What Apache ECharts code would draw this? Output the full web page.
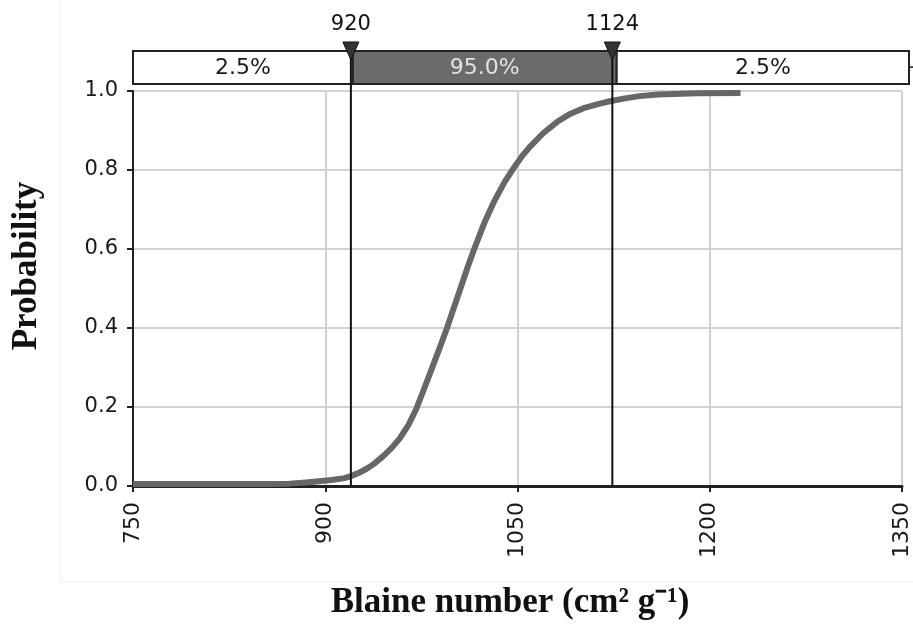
<!DOCTYPE html>
<html>
<head>
<meta charset="utf-8">
<script src="https://cdn.jsdelivr.net/npm/echarts@6/dist/echarts.min.js"></script>
<style>
  html, body { margin: 0; padding: 0; background: #fff; }
  #chart { width: 913px; height: 637px; }
</style>
</head>
<body>
<div id="chart"></div>
<script>
// Blaine number CDF
var blaine = [750, 800, 850, 872, 885, 895, 905, 915, 920, 926, 932, 938, 945, 952, 958, 965, 971, 977, 983, 989, 995, 1000, 1006, 1011, 1016, 1024, 1032, 1040, 1047, 1054, 1060, 1070, 1081, 1091, 1101, 1112, 1122, 1135, 1145, 1160, 1190, 1224];
var prob = [0.005, 0.005, 0.005, 0.006, 0.009, 0.012, 0.015, 0.02, 0.025, 0.033, 0.043, 0.056, 0.075, 0.097, 0.12, 0.155, 0.195, 0.245, 0.296, 0.347, 0.4, 0.448, 0.505, 0.553, 0.598, 0.665, 0.722, 0.77, 0.805, 0.837, 0.86, 0.893, 0.922, 0.942, 0.956, 0.966, 0.974, 0.982, 0.987, 0.991, 0.994, 0.995];

var cutValues = [920, 1124];
var bandEdges = [750, 920, 1124, 1350];
var bandLabels = ['2.5%', '95.0%', '2.5%'];

var xTicks = [750, 900, 1050, 1200, 1350];

var curveData = blaine.map(function (x, i) {
    return [x, prob[i]];
});

var bandData = bandLabels.map(function (lab, i) {
    return [bandEdges[i], bandEdges[i + 1], i];
});

var tickFont = 'DejaVu Sans';
var myChart = echarts.init(document.getElementById('chart'));

var option = {
    animation: false,
    backgroundColor: '#fff',
    grid: [
        {left: 133, right: 5, top: 91, bottom: 151},
        {left: 133, right: 4, top: 51, height: 33}
    ],
    xAxis: [{
        type: 'value',
        gridIndex: 0,
        min: xTicks[0],
        max: xTicks[xTicks.length - 1],
        interval: 150,
        axisLine: {lineStyle: {color: '#222', width: 3}},
        axisTick: {show: true, length: 6, lineStyle: {color: '#222', width: 2}},
        axisLabel: {
            rotate: 90,
            margin: 16,
            fontSize: 22,
            fontFamily: tickFont,
            color: '#1a1a1a',
            formatter: function (v) { return String(v); }
        },
        splitLine: {show: true, lineStyle: {color: '#d2d2d2', width: 2}}
    }, {
        type: 'value',
        gridIndex: 1,
        min: xTicks[0],
        max: xTicks[xTicks.length - 1],
        show: false
    }],
    yAxis: [{
        type: 'value',
        gridIndex: 0,
        min: 0,
        max: 1,
        interval: 0.2,
        axisLine: {show: true, lineStyle: {color: '#222', width: 2}},
        axisTick: {show: true, length: 6, lineStyle: {color: '#222', width: 2}},
        axisLabel: {
            margin: 15,
            fontSize: 21,
            fontFamily: tickFont,
            color: '#1a1a1a',
            formatter: function (v) { return v.toFixed(1); }
        },
        splitLine: {show: true, lineStyle: {color: '#d2d2d2', width: 2}}
    }, {
        type: 'value',
        gridIndex: 1,
        min: 0,
        max: 1,
        show: false
    }],
    graphic: [
        {
            type: 'rect',
            silent: true,
            z: -10,
            shape: {x: 60, y: -2, width: 860, height: 584},
            style: {fill: 'none', stroke: '#f0f0f0', lineWidth: 1}
        },
        {
            type: 'text',
            x: 27,
            y: 266,
            rotation: Math.PI / 2,
            style: {
                text: 'Probability',
                font: 'bold 35px "Liberation Serif"',
                fill: '#111',
                align: 'center',
                verticalAlign: 'middle'
            }
        },
        {
            type: 'text',
            x: 510,
            y: 603,
            style: {
                text: 'Blaine number (cm² g⁻¹)',
                font: 'bold 35px "Liberation Serif"',
                fill: '#111',
                align: 'center',
                verticalAlign: 'middle'
            }
        },
        {
            type: 'text',
            x: 907,
            y: 68,
            style: {
                text: '+',
                font: '22px "DejaVu Sans"',
                fill: '#333',
                align: 'center',
                verticalAlign: 'middle'
            }
        }
    ],
    series: [
        {
            type: 'line',
            xAxisIndex: 0,
            yAxisIndex: 0,
            data: curveData,
            showSymbol: false,
            smooth: false,
            lineStyle: {color: '#676767', width: 6, join: 'round'},
            z: 3
        },
        {
            // percentile band above the plot
            type: 'custom',
            xAxisIndex: 1,
            yAxisIndex: 1,
            data: bandData,
            z: 4,
            renderItem: function (params, api) {
                var p0 = api.coord([api.value(0), 1]);
                var p1 = api.coord([api.value(1), 0]);
                var mid = api.value(2) === 1;
                return {
                    type: 'group',
                    children: [{
                        type: 'rect',
                        shape: {x: p0[0], y: p0[1], width: p1[0] - p0[0], height: p1[1] - p0[1]},
                        style: {fill: mid ? '#6b6b6b' : '#fff', stroke: '#222', lineWidth: 2}
                    }, {
                        type: 'text',
                        x: (p0[0] + p1[0]) / 2,
                        y: (p0[1] + p1[1]) / 2 + 1,
                        style: {
                            text: bandLabels[api.value(2)],
                            font: '22px "DejaVu Sans"',
                            fill: mid ? '#e2e2e2' : '#1a1a1a',
                            align: 'center',
                            verticalAlign: 'middle'
                        }
                    }]
                };
            }
        },
        {
            // cut lines with triangle markers
            type: 'custom',
            xAxisIndex: 0,
            yAxisIndex: 0,
            data: cutValues.map(function (v) { return [v, 0]; }),
            clip: false,
            z: 10,
            renderItem: function (params, api) {
                var p = api.coord([api.value(0), 0]);
                var top = params.coordSys.y;
                return {
                    type: 'group',
                    children: [{
                        type: 'line',
                        shape: {x1: p[0], y1: p[1], x2: p[0], y2: top - 40},
                        style: {stroke: '#111', lineWidth: 2}
                    }, {
                        type: 'polygon',
                        shape: {points: [[p[0] - 8, top - 49], [p[0] + 8, top - 49], [p[0], top - 31]]},
                        style: {fill: '#333', stroke: '#111', lineWidth: 1}
                    }, {
                        type: 'text',
                        x: p[0],
                        y: top - 66,
                        style: {
                            text: String(api.value(0)),
                            font: '21px "DejaVu Sans"',
                            fill: '#111',
                            align: 'center',
                            verticalAlign: 'middle'
                        }
                    }]
                };
            }
        }
    ]
};

myChart.setOption(option);
</script>
</body>
</html>
